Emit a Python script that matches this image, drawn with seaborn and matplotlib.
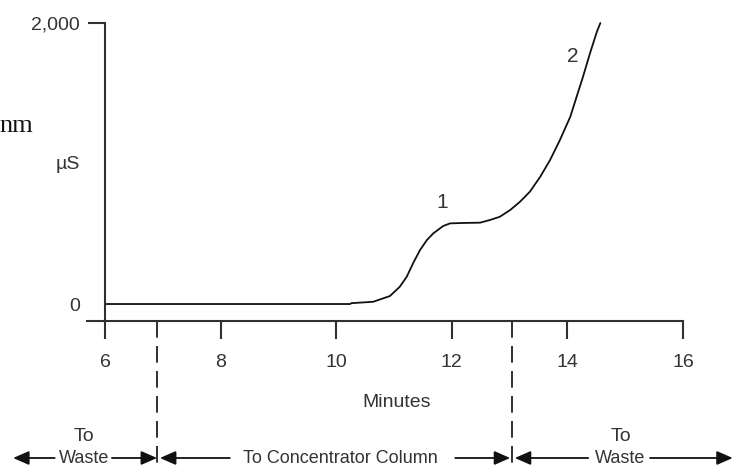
import matplotlib
matplotlib.use("Agg")
import matplotlib.pyplot as plt
from matplotlib import font_manager
import seaborn as sns
import pandas as pd

# Conductivity trace (minutes vs. µS)
minutes = [6.0, 10.24, 10.26, 10.64, 10.93, 11.10, 11.22, 11.33, 11.45, 11.57,
           11.68, 11.85, 11.97, 12.20, 12.49, 12.66, 12.83, 13.01, 13.18,
           13.35, 13.53, 13.70, 13.87, 14.05, 14.16, 14.27, 14.39, 14.51,
           14.57]
conductivity = [0, 0, 6, 16, 57, 123, 194, 290, 384, 456,
                503, 555, 574, 577, 579, 598, 621, 669, 728,
                799, 906, 1025, 1167, 1333, 1476, 1618, 1784, 1938,
                2000]

x_ticks = [6, 8, 10, 12, 14, 16]
y_ticks = [0, 2000]
y_tick_labels = ["0", "2,000"]

# Peak labels
peak_names = ["1", "2"]
peak_x = [11.83, 14.1]
peak_y = [725, 1765]

# Valve switching times
switch_times = [6.9, 13.04]

sns.set_theme(style="white")
available = {f.name for f in font_manager.fontManager.ttflist}
narrow = next((f for f in ("Liberation Sans Narrow", "Arial Narrow")
               if f in available), "Liberation Sans")
plt.rcParams["font.family"] = [narrow, "DejaVu Sans"]
plt.rcParams["lines.scale_dashes"] = False

ink = "#303030"
txt = "#333333"

fig = plt.figure(figsize=(7.33, 4.66), dpi=100)
ax = fig.add_axes([0, 0, 1, 1])

df = pd.DataFrame({"Minutes": minutes, "uS": conductivity})
sns.lineplot(data=df, x="Minutes", y="uS", ax=ax, color="#111111",
             linewidth=1.3, estimator=None, sort=False)

ax.set_xlim(4.183, 16.865)
ax.set_ylim(-1153, 2164)

# Axis frame
for side in ("top", "right"):
    ax.spines[side].set_visible(False)
ax.spines["bottom"].set_position(("data", -121))
ax.spines["bottom"].set_bounds(5.69, 16)
ax.spines["left"].set_position(("data", 6))
ax.spines["left"].set_bounds(-121, 2000)
for side in ("bottom", "left"):
    ax.spines[side].set_color(ink)
    ax.spines[side].set_linewidth(1.5)

ax.set_xticks(x_ticks)
ax.set_xticklabels([str(t) for t in x_ticks])
ax.tick_params(axis="x", direction="out", length=13, width=1.5, color=ink,
               pad=11, labelsize=14, labelcolor=txt, bottom=True)
ax.set_yticks(y_ticks)
ax.set_yticklabels(y_tick_labels)
ax.tick_params(axis="y", direction="out", length=12, width=1.5, color=ink,
               pad=6, labelsize=14, labelcolor=txt, left=True)
ax.yaxis.get_major_ticks()[0].tick1line.set_visible(False)

ax.set_xlabel("Minutes", fontsize=14, color=txt)
ax.xaxis.set_label_coords(11.05, -640, transform=ax.transData)
ax.set_ylabel("µS", fontsize=14, color=txt, rotation=0, va="center", ha="center")
ax.yaxis.set_label_coords(5.36, 990, transform=ax.transData)

for name, px, py in zip(peak_names, peak_x, peak_y):
    ax.text(px, py, name, fontsize=15, color=txt, ha="center", va="center")

# Fragment of caption text at the left edge
ax.text(4.17, 1270, "nm", fontsize=19, family="Liberation Serif",
        color="#111111", ha="left", va="center")

# Valve switching markers
for t in switch_times:
    ax.plot([t, t], [-121, -1160], color=ink, linewidth=1.4,
            dashes=(12, 6), solid_capstyle="butt", clip_on=False)

arrow_y = -1096
label_y = -940
row_y = -1098
arrow_kw = dict(arrowstyle="-|>,head_length=0.8,head_width=0.35",
                color="#111111", lw=1.3, mutation_scale=12,
                shrinkA=0, shrinkB=0)

segments = [
    # (tip_left, shaft_left_end, shaft_right_start, tip_right)
    (4.41, 5.13, 6.12, 6.90),
    (6.95, 8.16, 12.06, 13.01),
    (13.09, 14.36, 15.43, 16.86),
]
for tl, sl, sr, tr in segments:
    ax.annotate("", xy=(tl, arrow_y), xytext=(sl, arrow_y),
                arrowprops=arrow_kw, annotation_clip=False)
    ax.annotate("", xy=(tr, arrow_y), xytext=(sr, arrow_y),
                arrowprops=arrow_kw, annotation_clip=False)

ax.text(5.64, label_y, "To", fontsize=14, color=txt, ha="center", va="center")
ax.text(5.64, row_y, "Waste", fontsize=13, color=txt, ha="center", va="center")
ax.text(10.07, row_y, "To Concentrator Column", fontsize=13, color=txt,
        ha="center", va="center")
ax.text(14.92, label_y, "To", fontsize=14, color=txt, ha="center", va="center")
ax.text(14.92, row_y, "Waste", fontsize=13, color=txt, ha="center", va="center")

fig.savefig("out.png", dpi=100, facecolor="white")
